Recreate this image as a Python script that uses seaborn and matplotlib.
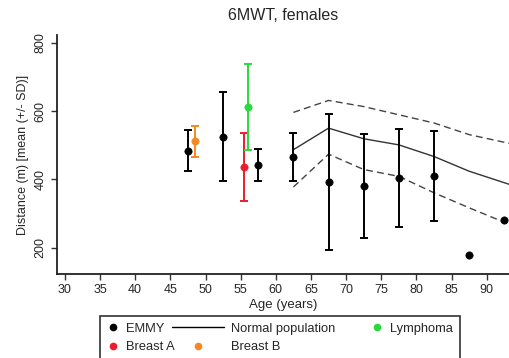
import pandas as pd
import matplotlib
matplotlib.use('Agg')
import matplotlib.pyplot as plt
import seaborn as sns
from matplotlib.lines import Line2D
from matplotlib.legend_handler import HandlerBase

# EMMY cohort, mean +/- SD per 5-year age band
emmy_age = [47.5, 52.5, 57.5, 62.5, 67.5, 72.5, 77.5, 82.5, 87.5, 92.5]
emmy_mean = [484, 525, 443, 466, 393, 380, 404, 410, 178, 281]
emmy_sd = [60, 130, 47, 70, 198, 152, 143, 131, 0, 0]

# other groups
breast_a_age, breast_a_mean, breast_a_sd = [55.5], [436], [100]
breast_b_age, breast_b_mean, breast_b_sd = [48.5], [512], [45]
lymph_age, lymph_mean, lymph_sd = [56.0], [612], [125]

# normal population reference (mean and +/- SD)
norm_age = [62.5, 67.5, 72.5, 77.5, 82.5, 87.5, 93.3]
norm_mean = [487, 550, 519, 501, 467, 424, 385]
norm_upper = [596, 631, 613, 589, 565, 531, 505]
norm_lower = [378, 474, 429, 409, 361, 317, 268]

x_ticks = list(range(30, 95, 5))
y_ticks = [200, 400, 600, 800]


# legend key helpers: long line key / shifted marker key
class KeyLine(HandlerBase):
    def create_artists(self, legend, orig, xd, yd, w, h, fs, trans):
        y = h / 2 - yd
        ln = Line2D([-xd - 28, -xd + w], [y, y], color='black', lw=1)
        ln.set_transform(trans)
        return [ln]


class KeyDot(HandlerBase):
    def __init__(self, shift=0):
        super().__init__()
        self.shift = shift

    def create_artists(self, legend, orig, xd, yd, w, h, fs, trans):
        m = Line2D([-xd + w / 2 + self.shift], [h / 2 - yd], marker='o',
                   ls='none', color=orig.get_color(), ms=4.5)
        m.set_transform(trans)
        return [m]


sns.set_style('ticks')
plt.rcParams['font.family'] = ['Liberation Sans', 'DejaVu Sans']

fig = plt.figure(figsize=(5.1, 3.58), dpi=100)
ax = fig.add_axes([0.112, 0.235, 0.888, 0.667])

norm = pd.DataFrame({'age': norm_age, 'mean': norm_mean,
                     'upper': norm_upper, 'lower': norm_lower})
sns.lineplot(data=norm, x='age', y='mean', color='#333333', lw=1, ax=ax)
sns.lineplot(data=norm, x='age', y='upper', color='#444444', lw=1, ax=ax,
             linestyle=(0, (5, 3)))
sns.lineplot(data=norm, x='age', y='lower', color='#444444', lw=1, ax=ax,
             linestyle=(0, (5, 3)))

groups = [
    (emmy_age, emmy_mean, emmy_sd, 'black'),
    (breast_b_age, breast_b_mean, breast_b_sd, '#f7881f'),
    (breast_a_age, breast_a_mean, breast_a_sd, '#ec1c2a'),
    (lymph_age, lymph_mean, lymph_sd, '#2ad93c'),
]
for age, mean, sd, col in groups:
    df = pd.DataFrame({'age': age, 'mean': mean, 'sd': sd})
    bars = df[df['sd'] > 0]
    ax.errorbar(bars['age'], bars['mean'], yerr=bars['sd'], fmt='none',
                ecolor=col, elinewidth=1.4, capsize=3, capthick=1.4)
    sns.scatterplot(data=df, x='age', y='mean', color=col, s=28,
                    edgecolor=col, ax=ax, zorder=3)

ax.set_xlim(28.9, 93.3)
ax.set_ylim(124, 822)
ax.set_xticks(x_ticks)
ax.set_yticks(y_ticks)
ax.tick_params(labelsize=9, length=4, width=1, color='#333333')
for lab in ax.get_yticklabels():
    lab.set_rotation(90)
    lab.set_va('center')
ax.set_xlabel('Age (years)', fontsize=9.5, labelpad=2)
ax.set_ylabel('Distance (m) [mean (+/- SD)]', fontsize=9, labelpad=4)
ax.set_title('6MWT, females', fontsize=11.5, pad=11)
for s in ['top', 'right']:
    ax.spines[s].set_visible(False)
for s in ['left', 'bottom']:
    ax.spines[s].set_linewidth(1.3)
    ax.spines[s].set_color('#222222')

h_emmy = Line2D([], [], color='black')
h_a = Line2D([], [], color='#ec1c2a')
h_norm = Line2D([], [], color='black')
h_b = Line2D([], [], color='#f7881f')
h_lym = Line2D([], [], color='#2ad93c')
handles = [h_emmy, h_a, h_norm, h_b, h_lym]
labels = ['EMMY', 'Breast A', 'Normal population', 'Breast B', 'Lymphoma']
leg = fig.legend(handles, labels, ncol=3, loc='upper left',
                 bbox_to_anchor=(0.197, 0.117), borderaxespad=0,
                 fontsize=9.3, frameon=True, fancybox=False, edgecolor='black',
                 handlelength=1.0, handletextpad=0.5, columnspacing=2.8,
                 labelspacing=0.5, borderpad=0.5,
                 handler_map={h_emmy: KeyDot(), h_a: KeyDot(),
                              h_lym: KeyDot(), h_norm: KeyLine(),
                              h_b: KeyDot(shift=-14)})
leg.get_frame().set_linewidth(1.2)

fig.savefig('out.png', dpi=100)
